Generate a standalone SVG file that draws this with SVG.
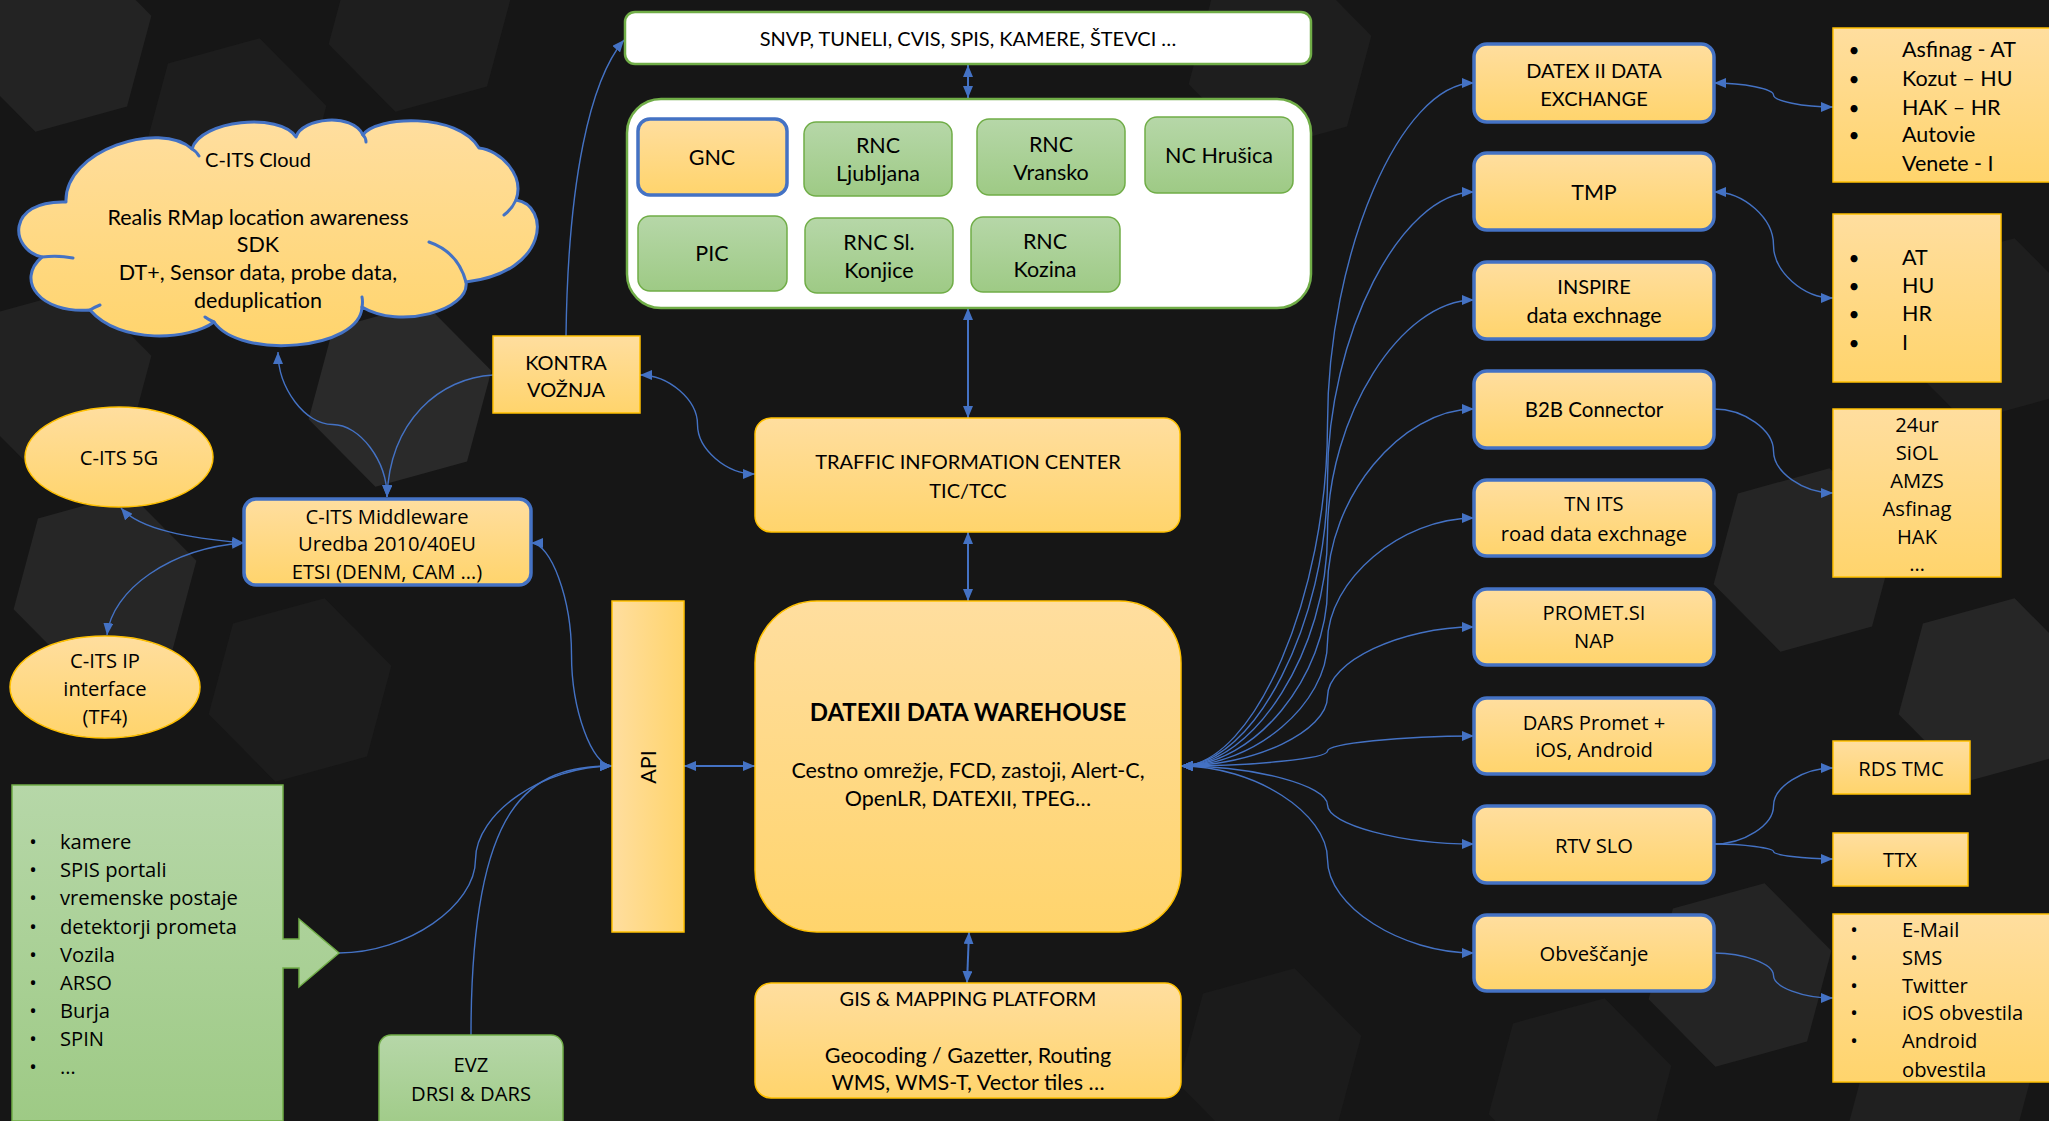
<svg xmlns="http://www.w3.org/2000/svg" width="2049" height="1121" viewBox="0 0 2049 1121">
<defs>
<linearGradient id="gOr" x1="0" y1="0" x2="0" y2="1"><stop offset="0" stop-color="#FFDE9F"/><stop offset="1" stop-color="#FFD46C"/></linearGradient>
<linearGradient id="gOrH" x1="0" y1="0" x2="1" y2="0"><stop offset="0" stop-color="#FFDE9F"/><stop offset="1" stop-color="#FFD46C"/></linearGradient>
<linearGradient id="gGr" x1="0" y1="0" x2="0" y2="1"><stop offset="0" stop-color="#B6D7A8"/><stop offset="1" stop-color="#9ECA85"/></linearGradient>
<marker id="ah" viewBox="0 0 12 10" refX="12" refY="5" markerWidth="12" markerHeight="10" markerUnits="userSpaceOnUse" orient="auto-start-reverse"><path d="M0,0 L12,5 L0,10 z" fill="#4472C4"/></marker>
<path id="hex" d="M0,-95 L82,-47 L82,47 L0,95 L-82,47 L-82,-47 Z" transform="rotate(15)"/>
<style>
.or{fill:url(#gOr);stroke:#FFC000;stroke-width:1.5}
.orb{fill:url(#gOr);stroke:#4472C4;stroke-width:3.5}
.gr{fill:url(#gGr);stroke:#70AD47;stroke-width:1.5}
.wh{fill:#FFFFFF;stroke:#70AD47;stroke-width:2.5}
.c{fill:none;stroke:#4472C4;stroke-width:1.4}
.cv{fill:none;stroke:#4472C4;stroke-width:2}
text{fill:#000;font-size:21.5px;font-family:Lato,"Liberation Sans",sans-serif;text-anchor:middle;dominant-baseline:central}
.k{font-size:20px}
.s{font-family:"Open Sans","Noto Sans",sans-serif;font-size:20.2px}
.l{text-anchor:start}
.bu{font-size:19px}
.b{font-weight:bold;font-size:24px}
</style>
</defs>
<rect width="2049" height="1121" fill="#161616"/>
<g id="background" fill="#1f1f1f">
<use href="#hex" x="60" y="40" fill="#232323"/>
<use href="#hex" x="235" y="130" fill="#1d1d1d"/>
<use href="#hex" x="400" y="395" fill="#2a2a2a"/>
<use href="#hex" x="105" y="585" fill="#262626"/>
<use href="#hex" x="60" y="380" fill="#222222"/>
<use href="#hex" x="300" y="690" fill="#1c1c1c"/>
<use href="#hex" x="420" y="20" fill="#1e1e1e"/>
<use href="#hex" x="1280" y="60" fill="#1e1e1e"/>
<use href="#hex" x="1805" y="560" fill="#252525"/>
<use href="#hex" x="1990" y="690" fill="#262626"/>
<use href="#hex" x="1740" y="975" fill="#242424"/>
<use href="#hex" x="1940" y="1100" fill="#202020"/>
<use href="#hex" x="1580" y="1090" fill="#1c1c1c"/>
<use href="#hex" x="1990" y="330" fill="#1e1e1e"/>
<use href="#hex" x="1270" y="1060" fill="#1b1b1b"/>
</g>
<g id="connectors">
<path class="cv" d="M968,65 L968,98" marker-start="url(#ah)" marker-end="url(#ah)"/>
<path class="cv" d="M968,308 L968,418" marker-start="url(#ah)" marker-end="url(#ah)"/>
<path class="cv" d="M968,532 L968,601" marker-start="url(#ah)" marker-end="url(#ah)"/>
<path class="cv" d="M969,932 L967,983" marker-start="url(#ah)" marker-end="url(#ah)"/>
<path class="cv" d="M684,766 L755,766" marker-start="url(#ah)" marker-end="url(#ah)"/>
<path class="c" d="M566,336 C568,180 590,80 624,40" marker-end="url(#ah)"/>
<path class="c" d="M640,375 C669,375 697.5,400 697.5,424.5 C697.5,449 726,474 755,474" marker-start="url(#ah)" marker-end="url(#ah)"/>
<path class="c" d="M278,352 C278,388 305,424.5 332.5,424.5 C360,424.5 387,461 387,497" marker-start="url(#ah)" marker-end="url(#ah)"/>
<path class="c" d="M493,375 C440,378 390,420 387,497" marker-end="url(#ah)"/>
<path class="c" d="M244,543 C190,538 140,530 121,508" marker-start="url(#ah)" marker-end="url(#ah)"/>
<path class="c" d="M244,543 C170,548 112,590 107,635" marker-start="url(#ah)" marker-end="url(#ah)"/>
<path class="c" d="M531,543 C551,543 571.5,599 571.5,654.5 C571.5,710 592,766 612,766" marker-start="url(#ah)" marker-end="url(#ah)"/>
<path class="c" d="M339,953 C407,953 475.5,906 475.5,859.5 C475.5,813 544,766 612,766" marker-end="url(#ah)"/>
<path class="c" d="M471,1035 C471,800 530,766 612,766" marker-end="url(#ah)"/>
<path class="c" d="M1181,766 C1254,766 1327.5,595 1327.5,424.5 C1327.5,254 1401,83 1474,83" marker-start="url(#ah)" marker-end="url(#ah)"/>
<path class="c" d="M1181,766 C1254,766 1327.5,622.5 1327.5,479 C1327.5,335.5 1401,192 1474,192" marker-start="url(#ah)" marker-end="url(#ah)"/>
<path class="c" d="M1181,766 C1254,766 1327.5,649.5 1327.5,533 C1327.5,416.5 1401,300 1474,300" marker-start="url(#ah)" marker-end="url(#ah)"/>
<path class="c" d="M1181,766 C1254,766 1327.5,676.75 1327.5,587.5 C1327.5,498.25 1401,409 1474,409" marker-start="url(#ah)" marker-end="url(#ah)"/>
<path class="c" d="M1181,766 C1254,766 1327.5,704 1327.5,642 C1327.5,580 1401,518 1474,518" marker-start="url(#ah)" marker-end="url(#ah)"/>
<path class="c" d="M1181,766 C1254,766 1327.5,731.25 1327.5,696.5 C1327.5,661.75 1401,627 1474,627" marker-start="url(#ah)" marker-end="url(#ah)"/>
<path class="c" d="M1181,766 C1254,766 1327.5,758.5 1327.5,751 C1327.5,743.5 1401,736 1474,736" marker-start="url(#ah)" marker-end="url(#ah)"/>
<path class="c" d="M1181,766 C1254,766 1327.5,785.5 1327.5,805 C1327.5,824.5 1401,844 1474,844" marker-start="url(#ah)" marker-end="url(#ah)"/>
<path class="c" d="M1181,766 C1254,766 1327.5,812.75 1327.5,859.5 C1327.5,906.25 1401,953 1474,953" marker-start="url(#ah)" marker-end="url(#ah)"/>
<path class="c" d="M1714,83 C1744,83 1773.5,89 1773.5,95 C1773.5,101 1803,107 1833,107" marker-start="url(#ah)" marker-end="url(#ah)"/>
<path class="c" d="M1714,192 C1744,192 1773.5,218.5 1773.5,245 C1773.5,271.5 1803,298 1833,298" marker-start="url(#ah)" marker-end="url(#ah)"/>
<path class="c" d="M1714,409 C1744,409 1773.5,430 1773.5,451 C1773.5,472 1803,493 1833,493" marker-end="url(#ah)"/>
<path class="c" d="M1714,844 C1744,844 1773.5,825 1773.5,806 C1773.5,787 1803,768 1833,768" marker-end="url(#ah)"/>
<path class="c" d="M1714,844 C1744,844 1773.5,848 1773.5,851.5 C1773.5,855 1803,859 1833,859" marker-end="url(#ah)"/>
<path class="c" d="M1714,953 C1744,953 1773.5,964 1773.5,975.5 C1773.5,987 1803,998 1833,998" marker-end="url(#ah)"/>
</g>
<g id="sources">
<rect class="wh" x="625" y="12" width="686" height="52" rx="10"/>
<text class="k" x="968" y="38">SNVP, TUNELI, CVIS, SPIS, KAMERE, ŠTEVCI …</text>
</g>
<g id="centers">
<rect class="wh" x="627" y="99" width="684" height="209" rx="34"/>
<g id="gnc"><rect class="orb" x="638" y="119" width="149" height="76" rx="12"/><text x="712" y="157">GNC</text></g>
<g id="rnc-ljubljana"><rect class="gr" x="804" y="122" width="148" height="74" rx="12"/><text x="878" y="145">RNC</text><text x="878" y="173">Ljubljana</text></g>
<g id="rnc-vransko"><rect class="gr" x="977" y="119" width="148" height="76" rx="12"/><text x="1051" y="144">RNC</text><text x="1051" y="172">Vransko</text></g>
<g id="nc-hrusica"><rect class="gr" x="1145" y="117" width="148" height="76" rx="12"/><text x="1219" y="155">NC Hrušica</text></g>
<g id="pic"><rect class="gr" x="638" y="216" width="149" height="75" rx="12"/><text x="712" y="253">PIC</text></g>
<g id="rnc-konjice"><rect class="gr" x="805" y="218" width="148" height="75" rx="12"/><text x="879" y="242">RNC Sl.</text><text x="879" y="270">Konjice</text></g>
<g id="rnc-kozina"><rect class="gr" x="971" y="217" width="149" height="75" rx="12"/><text x="1045" y="241">RNC</text><text x="1045" y="269">Kozina</text></g>
</g>
<g id="tic">
<rect class="or" x="755" y="418" width="425" height="114" rx="16"/>
<text class="k" x="968" y="461">TRAFFIC INFORMATION CENTER</text>
<text class="k" x="968" y="490">TIC/TCC</text>
</g>
<g id="warehouse">
<rect class="or" x="755" y="601" width="426" height="331" rx="62"/>
<text class="b" x="968" y="711">DATEXII DATA WAREHOUSE</text>
<text x="968" y="770">Cestno omrežje, FCD, zastoji, Alert-C,</text>
<text x="968" y="798">OpenLR, DATEXII, TPEG…</text>
</g>
<g id="gis">
<rect class="or" x="755" y="983" width="426" height="115" rx="16"/>
<text class="k" x="968" y="998">GIS &amp; MAPPING PLATFORM</text>
<text x="968" y="1055">Geocoding / Gazetter, Routing</text>
<text x="968" y="1082">WMS, WMS-T, Vector tiles …</text>
</g>
<g id="api">
<rect x="612" y="601" width="72" height="331" fill="url(#gOrH)" stroke="#FFC000" stroke-width="1.5"/>
<text x="648" y="767" transform="rotate(-90 648 767)">API</text>
</g>
<g id="kontra">
<rect class="or" x="493" y="336" width="147" height="77"/>
<text class="k" x="566" y="362">KONTRA</text>
<text class="k" x="566" y="389">VOŽNJA</text>
</g>
<g id="cloud">
<path d="M66,202 C64,150 160,120 192,149 C200,120 280,112 296,137 C302,118 352,112 363,135 C375,116 458,112 479,148 C500,150 525,175 516,200 C550,205 550,272 466,282 C470,310 400,330 362,307 C360,350 240,360 214,322 C190,340 120,345 90,310 C40,314 15,280 42,257 C10,250 5,200 66,202 Z" fill="url(#gOr)" stroke="#4472C4" stroke-width="3" stroke-linejoin="round"/>
<path d="M192,149 Q196,151 199,156 M363,135 Q366,138 366,142 M516,200 Q512,209 504,215 M429,242 Q458,252 466,282 M362,307 Q363,302 362,297 M214,322 Q209,320 205,317 M90,310 Q95,307 100,305 M42,257 Q58,255 73,258" fill="none" stroke="#4472C4" stroke-width="3" stroke-linecap="round"/>
<text class="k" x="258" y="159">C-ITS Cloud</text>
<text x="258" y="217">Realis RMap location awareness</text>
<text x="258" y="244">SDK</text>
<text x="258" y="272">DT+, Sensor data, probe data,</text>
<text x="258" y="300">deduplication</text>
</g>
<g id="cits-5g">
<ellipse class="or" cx="119" cy="457" rx="94" ry="50"/>
<text class="s" x="119" y="457">C-ITS 5G</text>
</g>
<g id="cits-ip">
<ellipse class="or" cx="105" cy="687" rx="95" ry="51"/>
<text class="s" x="105" y="660">C-ITS IP</text>
<text class="s" x="105" y="688">interface</text>
<text class="s" x="105" y="716">(TF4)</text>
</g>
<g id="middleware">
<rect class="orb" x="244" y="499" width="287" height="86" rx="12"/>
<text class="s" x="387" y="516">C-ITS Middleware</text>
<text class="s" x="387" y="543">Uredba 2010/40EU</text>
<text class="s" x="387" y="571">ETSI (DENM, CAM …)</text>
</g>
<g id="sources-list">
<path d="M12,785 L283,785 L283,939 L299,939 L299,919 L339,953 L299,987 L299,968 L283,968 L283,1121 L12,1121 Z" fill="url(#gGr)" stroke="#70AD47" stroke-width="1.5"/>
<text class="s" x="33" y="841">•</text><text class="s l" x="60" y="841">kamere</text>
<text class="s" x="33" y="869">•</text><text class="s l" x="60" y="869">SPIS portali</text>
<text class="s" x="33" y="897">•</text><text class="s l" x="60" y="897">vremenske postaje</text>
<text class="s" x="33" y="926">•</text><text class="s l" x="60" y="926">detektorji prometa</text>
<text class="s" x="33" y="954">•</text><text class="s l" x="60" y="954">Vozila</text>
<text class="s" x="33" y="982">•</text><text class="s l" x="60" y="982">ARSO</text>
<text class="s" x="33" y="1010">•</text><text class="s l" x="60" y="1010">Burja</text>
<text class="s" x="33" y="1038">•</text><text class="s l" x="60" y="1038">SPIN</text>
<text class="s" x="33" y="1066">•</text><text class="s l" x="60" y="1066">…</text>
</g>
<g id="evz">
<rect class="gr" x="379" y="1035" width="184" height="100" rx="12"/>
<text class="s" x="471" y="1064">EVZ</text>
<text class="s" x="471" y="1093">DRSI &amp; DARS</text>
</g>
<g id="datex-exchange"><rect class="orb" x="1474" y="44" width="240" height="78" rx="13"/><text class="k" x="1594" y="70">DATEX II DATA</text><text class="k" x="1594" y="98">EXCHANGE</text></g>
<g id="tmp"><rect class="orb" x="1474" y="153" width="240" height="77" rx="13"/><text x="1594" y="192">TMP</text></g>
<g id="inspire"><rect class="orb" x="1474" y="262" width="240" height="77" rx="13"/><text class="k" x="1594" y="286">INSPIRE</text><text x="1594" y="315">data exchnage</text></g>
<g id="b2b"><rect class="orb" x="1474" y="371" width="240" height="77" rx="13"/><text style="font-size:20.5px" x="1594" y="409">B2B Connector</text></g>
<g id="tn-its"><rect class="orb" x="1474" y="480" width="240" height="76" rx="13"/><text class="s" x="1594" y="503">TN ITS</text><text class="s" x="1594" y="533">road data exchnage</text></g>
<g id="promet"><rect class="orb" x="1474" y="589" width="240" height="76" rx="13"/><text class="s" x="1594" y="612">PROMET.SI</text><text class="s" x="1594" y="640">NAP</text></g>
<g id="dars"><rect class="orb" x="1474" y="698" width="240" height="76" rx="13"/><text class="s" x="1594" y="722">DARS Promet +</text><text class="s" x="1594" y="749">iOS, Android</text></g>
<g id="rtv"><rect class="orb" x="1474" y="806" width="240" height="77" rx="13"/><text class="s" x="1594" y="845">RTV SLO</text></g>
<g id="obvescanje"><rect class="orb" x="1474" y="915" width="240" height="76" rx="13"/><text class="s" x="1594" y="953">Obveščanje</text></g>
<g id="partners">
<rect class="or" x="1833" y="28" width="220" height="154"/>
<text class="bu" x="1854" y="49">•</text><text class="l" x="1902" y="49">Asfinag - AT</text>
<text class="bu" x="1854" y="78">•</text><text class="l" x="1902" y="78">Kozut – HU</text>
<text class="bu" x="1854" y="107">•</text><text class="l" x="1902" y="107">HAK – HR</text>
<text class="bu" x="1854" y="134">•</text><text class="l" x="1902" y="134">Autovie</text>
<text class="l" x="1902" y="163">Venete - I</text>
</g>
<g id="countries">
<rect class="or" x="1833" y="214" width="168" height="168"/>
<text class="bu" x="1854" y="257">•</text><text class="l" x="1902" y="257">AT</text>
<text class="bu" x="1854" y="285">•</text><text class="l" x="1902" y="285">HU</text>
<text class="bu" x="1854" y="313">•</text><text class="l" x="1902" y="313">HR</text>
<text class="bu" x="1854" y="342">•</text><text class="l" x="1902" y="342">I</text>
</g>
<g id="media">
<rect class="or" x="1833" y="409" width="168" height="168"/>
<text class="s" x="1917" y="424">24ur</text>
<text class="s" x="1917" y="452">SiOL</text>
<text class="s" x="1917" y="480">AMZS</text>
<text class="s" x="1917" y="508">Asfinag</text>
<text class="s" x="1917" y="536">HAK</text>
<text class="s" x="1917" y="563">…</text>
</g>
<g id="rds-tmc"><rect class="or" x="1833" y="741" width="137" height="53"/><text class="s" x="1901" y="768">RDS TMC</text></g>
<g id="ttx"><rect class="or" x="1833" y="833" width="135" height="53"/><text class="s" x="1900" y="859">TTX</text></g>
<g id="notifications">
<rect class="or" x="1833" y="914" width="220" height="168"/>
<text class="s" x="1854" y="929">•</text><text class="s l" x="1902" y="929">E-Mail</text>
<text class="s" x="1854" y="957">•</text><text class="s l" x="1902" y="957">SMS</text>
<text class="s" x="1854" y="985">•</text><text class="s l" x="1902" y="985">Twitter</text>
<text class="s" x="1854" y="1012">•</text><text class="s l" x="1902" y="1012">iOS obvestila</text>
<text class="s" x="1854" y="1040">•</text><text class="s l" x="1902" y="1040">Android</text>
<text class="s l" x="1902" y="1069">obvestila</text>
</g>
</svg>
